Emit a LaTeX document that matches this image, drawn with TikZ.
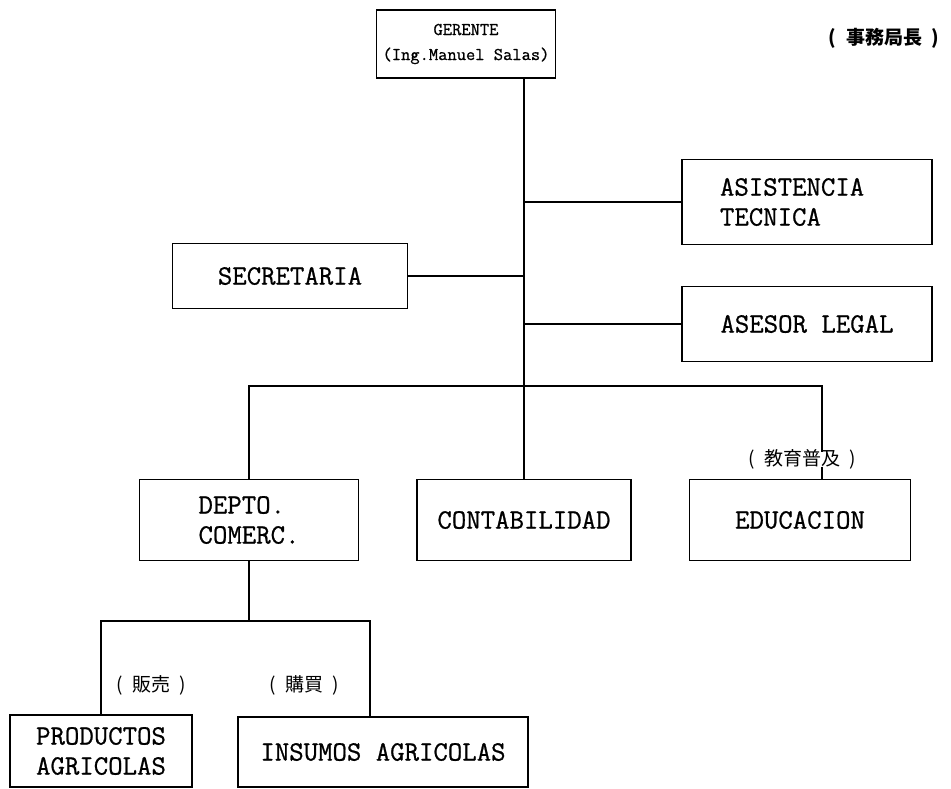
\documentclass[tikz,border=0pt]{standalone}
\usepackage{fontspec}
\setmonofont[FakeBold=0.8]{Latin Modern Mono}
\newfontfamily\jpfont{Noto Sans CJK JP}
\usepackage{tikz}
\usetikzlibrary{positioning}

\begin{document}
\begin{tikzpicture}[x=1pt,y=-1pt,line width=1.3pt,
    unit/.style={draw,line width=1.3pt,inner sep=0pt,align=center,
        font=\ttfamily\fontsize{28}{30}\selectfont},
    note/.style={inner sep=0pt,font=\jpfont\fontsize{19}{22}\selectfont}]

\useasboundingbox (0,0) rectangle (951,789);

%the head
    \node[unit,minimum width=179pt,minimum height=68pt,
        font=\ttfamily\fontsize{18}{25}\selectfont] (ger) at (466,44) {GERENTE\\(Ing.Manuel Salas)};
    \node[note,font=\jpfont\bfseries\fontsize{19}{22}\selectfont] (jefe) at (884,38) {(\enspace 事務局長\enspace)};

%staff units
    \node[unit,text width=174pt,inner xsep=38pt,minimum height=85pt,align=left] (asis) at (807,202) {ASISTENCIA\\TECNICA};
    \node[unit,minimum width=235pt,minimum height=65pt] (secr) at (290,276) {SECRETARIA};
    \node[unit,minimum width=250pt,minimum height=75pt] (ases) at (807,324) {ASESOR LEGAL};

%line units
    \node[unit,minimum width=219pt,minimum height=81pt,align=left] (depto) at (249,520) {DEPTO.\\COMERC.};
    \node[unit,minimum width=214pt,minimum height=81pt] (conta) at (524,520) {CONTABILIDAD};
    \node[unit,minimum width=221pt,minimum height=81pt] (edu) at (800,520) {EDUCACION};
    \node[note] (edulbl) at (802,459) {(\enspace 教育普及\enspace)};

%sections of the commercial dept.
    \node[unit,minimum width=182pt,minimum height=72pt] (prod) at (101,751) {PRODUCTOS\\AGRICOLAS};
    \node[unit,minimum width=290pt,minimum height=70pt] (insu) at (383,752) {INSUMOS AGRICOLAS};
    \node[note] (venta) at (151,685) {(\enspace 販売\enspace)};
    \node[note] (compra) at (304,685) {(\enspace 購買\enspace)};

    \coordinate (bar) at (524,386);
    \coordinate (drop) at (822,386);
    \coordinate (sub) at (249,621);
    \coordinate (subr) at (370,621);

%the lines
    \draw (ger.south -| conta.north) -- (conta.north);
    \draw (asis.west) -- (asis.west -| conta.north);
    \draw (secr.east) -- (secr.east -| conta.north);
    \draw (ases.west) -- (ases.west -| conta.north);
    \draw (depto.north) |- (drop) -- ([yshift=-4pt]edulbl.north -| drop);
    \draw ([yshift=3pt]edulbl.south -| drop) -- (edu.north -| drop);
    \draw (depto.south) -- (sub);
    \draw (prod.north) |- (subr) -- (insu.north -| subr);
\end{tikzpicture}
\end{document}
